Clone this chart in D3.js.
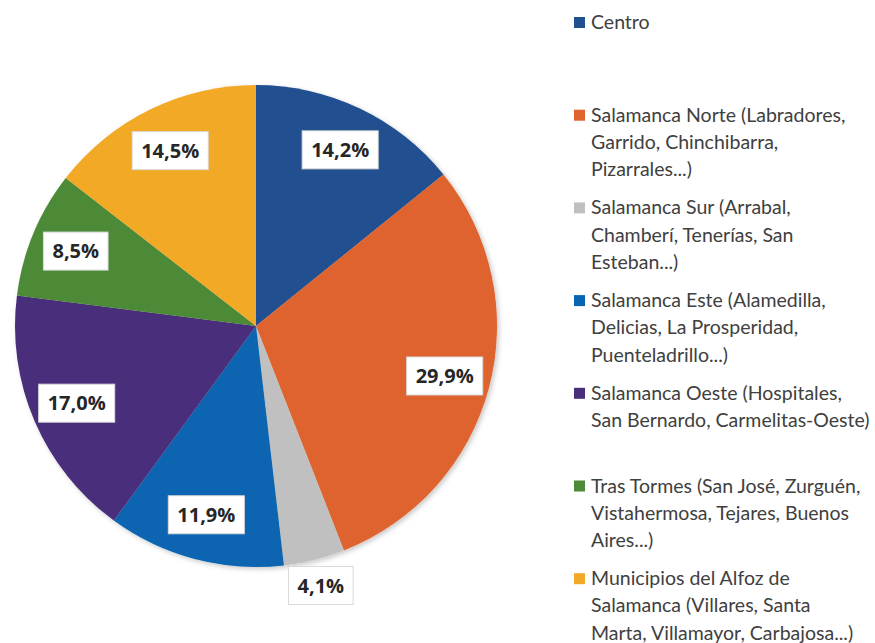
<!DOCTYPE html>
<html>
<head>
<meta charset="utf-8">
<script src="https://cdn.jsdelivr.net/npm/d3@7"></script>
<style>
  body { margin: 0; background: #fff; }
</style>
</head>
<body>
<div id="chart"></div>
<script>
// Zones of Salamanca, line breaks as in the legend
const categories = [
  "Centro",
  "Salamanca Norte (Labradores,\nGarrido, Chinchibarra,\nPizarrales...)",
  "Salamanca Sur (Arrabal,\nChamberí, Tenerías, San\nEsteban...)",
  "Salamanca Este (Alamedilla,\nDelicias, La Prosperidad,\nPuenteladrillo...)",
  "Salamanca Oeste (Hospitales,\nSan Bernardo, Carmelitas-Oeste)",
  "Tras Tormes (San José, Zurguén,\nVistahermosa, Tejares, Buenos\nAires...)",
  "Municipios del Alfoz de\nSalamanca (Villares, Santa\nMarta, Villamayor, Carbajosa...)"
];
const values = [14.2, 29.9, 4.1, 11.9, 17.0, 8.5, 14.5];
const colors = ["#21508f", "#df632d", "#c0c0c0", "#0865b1", "#4a2d7b", "#4d8a37", "#f2a927"];

const width = 875, height = 643;
const cx = 256, cy = 326, radius = 241;

const esFormat = d3.formatLocale({
  decimal: ",", thousands: ".", grouping: [3], currency: ["", " €"]
}).format(".1f");

const svg = d3.select('#chart')
  .append('svg')
  .attr('width', width)
  .attr('height', height)
  .style('font-family', "'Open Sans', sans-serif");

// soft shadow under the pie
const defs = svg.append('defs');
defs.append('filter')
  .attr('id', 'shadow')
  .attr('x', '-10%').attr('y', '-10%')
  .attr('width', '120%').attr('height', '120%')
  .append('feDropShadow')
  .attr('dx', 2).attr('dy', 2)
  .attr('stdDeviation', 2.5)
  .attr('flood-color', '#000')
  .attr('flood-opacity', 0.22);

const data = values.map((v, i) => ({ value: v, name: categories[i], color: colors[i] }));

const pie = d3.pie().sort(null).value(d => d.value);
const arcs = pie(data);

const arc = d3.arc().innerRadius(0).outerRadius(radius);
const labelArc = d3.arc().innerRadius(radius * 0.81).outerRadius(radius * 0.81);
const outsideArc = d3.arc().innerRadius(radius * 1.11).outerRadius(radius * 1.11);

const chart = svg.append('g')
  .attr('transform', `translate(${cx},${cy})`);

chart.append('g')
  .attr('filter', 'url(#shadow)')
  .selectAll('path')
  .data(arcs)
  .join('path')
  .attr('d', arc)
  .attr('fill', d => d.data.color);

// Data labels in white boxes
const labels = chart.append('g')
  .selectAll('g')
  .data(arcs)
  .join('g')
  .attr('transform', d => {
    const p = d.data.value < 5 ? outsideArc.centroid(d) : labelArc.centroid(d);
    return `translate(${p[0]},${p[1]})`;
  });

labels.append('rect')
  .attr('fill', '#fff')
  .attr('stroke', '#d9d9d9')
  .attr('stroke-width', 1);

labels.append('text')
  .attr('text-anchor', 'middle')
  .attr('dy', '0.36em')
  .style('font-size', '20px')
  .style('font-weight', 'bold')
  .attr('fill', '#262626')
  .text(d => esFormat(d.data.value) + '%');

labels.each(function () {
  const g = d3.select(this);
  const bb = g.select('text').node().getBBox();
  const w = bb.width + 18, h = 38;
  g.select('rect')
    .attr('x', -w / 2)
    .attr('y', -h / 2)
    .attr('width', w)
    .attr('height', h);
});

// Legend
const legendX = 574, firstBaseline = 29, entryStep = 92.7, lineStep = 27.3;

const legend = svg.append('g')
  .selectAll('g')
  .data(data)
  .join('g')
  .attr('transform', (d, i) => `translate(${legendX},${firstBaseline + i * entryStep})`);

legend.append('rect')
  .attr('x', 0)
  .attr('y', -12)
  .attr('width', 11)
  .attr('height', 11)
  .attr('fill', d => d.color);

legend.append('text')
  .attr('x', 17)
  .attr('y', 0)
  .style('font-family', "Lato, 'Open Sans', sans-serif")
  .style('font-size', '19.5px')
  .attr('fill', '#404040')
  .selectAll('tspan')
  .data(d => d.name.split('\n'))
  .join('tspan')
  .attr('x', 17)
  .attr('y', (d, i) => i * lineStep)
  .text(d => d);
</script>
</body>
</html>
